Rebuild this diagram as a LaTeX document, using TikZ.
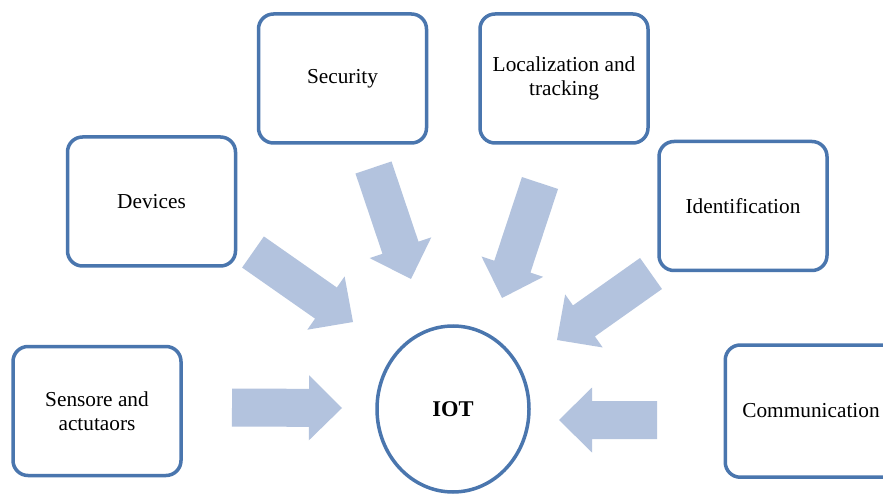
\documentclass[tikz,border=0pt]{standalone}
\usepackage{fontspec}
\setmainfont{Liberation Serif}
\usetikzlibrary{calc,shapes.geometric}

\definecolor{boxline}{HTML}{4A76AE}
\definecolor{arrowblue}{HTML}{B3C3DE}

\tikzset{
  topic/.style={draw=boxline, line width=3.5pt, rounded corners=15pt,
    fill=white, minimum width=168pt, minimum height=129pt, align=center,
    font=\fontsize{21.3}{24}\selectfont},
  hub/.style={draw=boxline, line width=3.5pt, ellipse, fill=white,
    minimum width=152pt, minimum height=166pt,
    font=\fontsize{22.5}{26}\selectfont\bfseries},
  arrowfill/.style={fill=arrowblue}
}

% fat block arrow from a tail point #1 to a tip point #2
\newcommand\blockarrow[2]{%
  \coordinate (hb) at ($(#2)!33pt!(#1)$);
  \fill[arrowfill]
    ($(#1)!19pt!90:(#2)$) -- ($(hb)!19pt!90:(#2)$) --
    ($(hb)!32.5pt!90:(#2)$) -- (#2) --
    ($(hb)!32.5pt!-90:(#2)$) -- ($(hb)!19pt!-90:(#2)$) --
    ($(#1)!19pt!-90:(#2)$) -- cycle;
}

\begin{document}
\begin{tikzpicture}[x=1pt, y=-1pt]
  \useasboundingbox (0,0) rectangle (883,494);
  \fill[white] (0,0) rectangle (883,494);

  % central hub
  \node[hub] (iot) at (453,409) {IOT};

  % surrounding topics
  \node[topic] (sens) at (97,411)    {Sensore and\\actutaors};
  \node[topic] (dev)  at (151.5,201.5) {Devices};
  \node[topic] (sec)  at (342.5,78.5)  {Security};
  \node[topic] (loc)  at (564,78.5)    {Localization and\\tracking};
  \node[topic] (ident) at (743,206)    {Identification};
  % this box is cut by the right edge of the page: only its left part shows
  \node[topic, draw=none, fill=none] (comm) at (811,411) {Communication};
  \coordinate (commTR) at (883,345);
  \coordinate (commBR) at (883,477);
  \draw[boxline, line width=3.5pt, rounded corners=15pt, line cap=butt]
    (commTR) -| (comm.south west) -- (commBR);

  % arrow end points
  \coordinate (sensT) at (232,407.5);  \coordinate (sensH) at (342,408);
  \coordinate (devT)  at (253,252);    \coordinate (devH)  at (353,322);
  \coordinate (secT)  at (373.5,167.5);\coordinate (secH)  at (411,279);
  \coordinate (locT)  at (540,183);    \coordinate (locH)  at (502,298);
  \coordinate (idT)   at (651,273.5);  \coordinate (idH)   at (557,340);
  \coordinate (comT)  at (657,420);    \coordinate (comH)  at (559,420);

  \blockarrow{sensT}{sensH}
  \blockarrow{devT}{devH}
  \blockarrow{secT}{secH}
  \blockarrow{locT}{locH}
  \blockarrow{idT}{idH}
  \blockarrow{comT}{comH}
\end{tikzpicture}
\end{document}
